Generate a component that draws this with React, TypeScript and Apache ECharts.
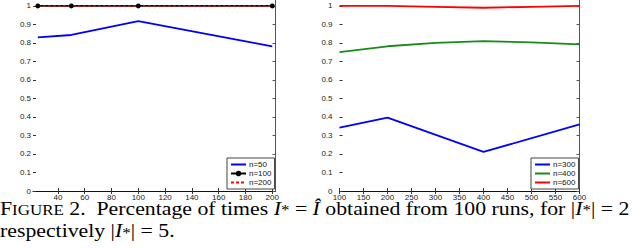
import React, { useEffect, useRef } from 'react';
import * as echarts from 'echarts';

// Left panel (|I*| = 2)
const leftX = [25, 50, 100, 200];
const n50 = [0.83, 0.843, 0.918, 0.782];
const n100 = [1, 1, 1, 1];
const n200 = [1, 1, 1, 1];
const leftXTicks = [40, 60, 80, 100, 120, 140, 160, 180, 200];

// Right panel (|I*| = 5)
const blueX = [100, 200, 400, 600];
const n300 = [0.343, 0.396, 0.211, 0.36];
const rightX = [100, 200, 300, 400, 500, 600];
const n400 = [0.75, 0.782, 0.8, 0.81, 0.803, 0.792];
const n600 = [1, 1, 0.995, 0.99, 0.995, 1];
const rightXTicks = [100, 150, 200, 250, 300, 350, 400, 450, 500, 550, 600];

const yTicks = [0, 0.1, 0.2, 0.3, 0.4, 0.5, 0.6, 0.7, 0.8, 0.9, 1];

const SANS = 'Liberation Sans, Arial, sans-serif';
const SERIF = 'Liberation Serif, Times New Roman, serif';

const zip = (xs: number[], ys: number[]) => xs.map((x, i) => [x, ys[i]]);

function xAxes(grid: number, min: number, max: number, ticks: number[]) {
  return [
    {
      type: 'value', gridIndex: grid, position: 'bottom', min, max,
      axisLine: { show: true, lineStyle: { color: '#111', width: 1 } },
      axisTick: { show: true, inside: true, length: 3, customValues: ticks, lineStyle: { color: '#333' } },
      axisLabel: { show: true, customValues: ticks, fontSize: 8, fontFamily: SANS, color: '#222', margin: 2 },
      splitLine: { show: false },
    },
    {
      type: 'value', gridIndex: grid, position: 'top', min, max,
      axisLine: { show: false },
      axisTick: { show: true, inside: true, length: 3, customValues: ticks, lineStyle: { color: '#333' } },
      axisLabel: { show: false },
      splitLine: { show: false },
    },
  ];
}

function yAxes(grid: number, margin: number) {
  return [
    {
      type: 'value', gridIndex: grid, position: 'left', min: 0, max: 1.032,
      axisLine: { show: false },
      axisTick: { show: true, inside: true, length: 3, customValues: yTicks, lineStyle: { color: '#333' } },
      axisLabel: { show: true, customValues: yTicks, fontSize: 8, fontFamily: SANS, color: '#222', margin },
      splitLine: { show: false },
    },
    {
      type: 'value', gridIndex: grid, position: 'right', min: 0, max: 1.032,
      axisLine: { show: true, lineStyle: { color: '#555', width: 1 } },
      axisTick: { show: true, inside: true, length: 3, customValues: yTicks, lineStyle: { color: '#555' } },
      axisLabel: { show: false },
      splitLine: { show: false },
    },
  ];
}

function legend(names: string[], marker: boolean[], left: number) {
  return {
    data: names.map((name, i) => (marker[i] ? { name } : { name, itemStyle: { opacity: 0 } })),
    orient: 'vertical',
    left,
    top: 158,
    padding: [2, 3, 2, 3],
    itemGap: 0,
    itemWidth: 15,
    itemHeight: 7,
    borderColor: '#444',
    borderWidth: 1,
    borderRadius: 0,
    backgroundColor: '#fff',
    textStyle: { fontSize: 8, fontFamily: SANS, color: '#111', lineHeight: 9, padding: [0, 0, 0, -2] },
  };
}

export default function App() {
  const ref = useRef<HTMLDivElement>(null);
  useEffect(() => {
    document.body.style.margin = '0';
    const chart = echarts.init(ref.current!, undefined, { renderer: 'svg' });
    const lw = 1.8;
    const LH = 14;
    const rich = {
      r: { fontSize: 18, fontFamily: SERIF, color: '#000', verticalAlign: 'bottom', lineHeight: LH },
      sc: { fontSize: 14, fontFamily: SERIF, color: '#000', verticalAlign: 'bottom', lineHeight: LH },
      it: { fontSize: 18, fontFamily: SERIF, fontStyle: 'italic', color: '#000', verticalAlign: 'bottom', lineHeight: LH },
      sup: { fontSize: 14, fontFamily: SERIF, color: '#000', verticalAlign: 'bottom', lineHeight: LH },
    };
    const SX = 1.21;
    chart.setOption({
      animation: false,
      grid: [
        { left: 33, right: 364.5, top: -1, bottom: 57 },
        { left: 339.5, right: 60.5, top: -1, bottom: 57 },
      ],
      xAxis: [...xAxes(0, 21.4, 202.4, leftXTicks), ...xAxes(1, 100, 600, rightXTicks)],
      yAxis: [...yAxes(0, 2), ...yAxes(1, 7)],
      legend: [
        legend(['n=50', 'n=100', 'n=200'], [false, true, false], 227),
        legend(['n=300', 'n=400', 'n=600'], [false, false, false], 531),
      ],
      series: [
        { name: 'n=50', type: 'line', xAxisIndex: 0, yAxisIndex: 0, data: zip(leftX, n50), symbol: 'none', color: '#0000ff', lineStyle: { width: lw } },
        { name: 'n=100', type: 'line', xAxisIndex: 0, yAxisIndex: 0, data: zip(leftX, n100), symbol: 'circle', symbolSize: 5, color: '#000', lineStyle: { width: lw } },
        { name: 'n=200', type: 'line', xAxisIndex: 0, yAxisIndex: 0, data: zip(leftX, n200), symbol: 'none', color: '#ff0000', lineStyle: { width: 1.3, type: [3, 2] } },
        { name: 'n=300', type: 'line', xAxisIndex: 2, yAxisIndex: 2, data: zip(blueX, n300), symbol: 'none', color: '#0000ff', lineStyle: { width: lw } },
        { name: 'n=400', type: 'line', xAxisIndex: 2, yAxisIndex: 2, data: zip(rightX, n400), symbol: 'none', color: '#1a8a1a', lineStyle: { width: lw } },
        { name: 'n=600', type: 'line', xAxisIndex: 2, yAxisIndex: 2, data: zip(rightX, n600), symbol: 'none', color: '#ff0000', lineStyle: { width: lw } },
      ],
      graphic: [
        {
          type: 'text', x: 0, y: 203.5, scaleX: SX,
          style: {
            text: '{r|F}{sc|IGURE}{r| 2.  Percentage of times }{it|I}{sup|*}{r| = }{it|Î}{r| obtained from 100 runs, for |}{it|I}{sup|*}{r|| = 2}',
            rich,
          },
        },
        {
          type: 'text', x: 0, y: 226, scaleX: SX,
          style: {
            text: '{r|respectively |}{it|I}{sup|*}{r|| = 5.}',
            rich,
          },
        },
      ],
    });
    return () => chart.dispose();
  }, []);
  return <div ref={ref} style={{ position: 'absolute', left: 0, top: 0, width: 640, height: 248 }} />;
}
